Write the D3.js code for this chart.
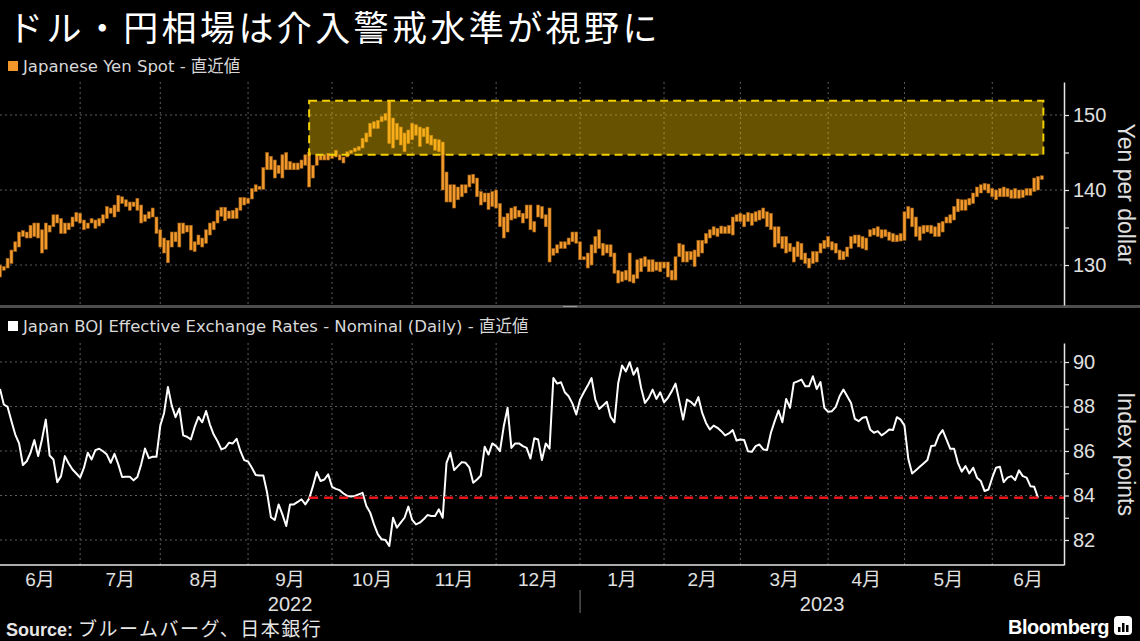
<!DOCTYPE html>
<html>
<head>
<meta charset="utf-8">
<script src="https://cdn.jsdelivr.net/npm/d3@7"></script>
<style>
  body { margin: 0; background: #000; }
  svg { display: block; }
  text { font-family: "Liberation Sans", Arial, sans-serif; }
</style>
</head>
<body>
<div id="chart"></div>
<script>
/* global d3 */

// USD/JPY daily high / low (one value per weekday from 2022-06-01)
const yenHigh = [
  130.0,129.8,130.9,132.0,133.1,134.4,134.6,134.4,135.3,135.6,135.6,134.7,135.6,135.3,136.7,136.7,136.2,135.6,135.6,136.4,
  137.0,136.9,136.0,135.6,136.2,136.0,136.2,136.7,137.8,137.6,138.0,139.3,139.1,138.7,138.4,138.4,138.9,138.0,136.7,137.1,
  137.6,136.4,134.7,133.6,133.3,134.4,134.4,135.6,135.6,135.3,135.3,133.1,134.0,133.6,134.7,135.6,135.8,137.3,137.7,137.7,
  137.2,137.3,137.6,139.0,139.0,138.9,140.2,140.7,140.5,143.0,145.0,144.5,144.0,143.3,144.7,145.0,143.8,143.6,143.6,144.0,
  144.7,145.0,143.3,144.7,144.7,144.7,144.9,144.7,145.3,144.7,144.4,145.1,145.3,145.6,145.8,146.9,147.6,148.9,149.1,149.3,
  149.8,150.2,151.9,149.6,148.9,148.4,147.6,148.0,148.9,148.7,148.4,148.2,148.4,147.3,146.8,146.7,146.4,142.4,140.7,140.7,
  140.4,140.7,140.7,142.0,142.1,141.6,139.8,139.6,139.6,139.8,140.0,138.2,136.4,136.9,137.6,137.8,137.3,136.9,138.0,138.0,
  135.8,138.0,137.8,136.7,137.6,132.2,132.7,133.1,133.1,133.6,134.4,134.4,133.1,131.1,131.6,132.7,133.8,134.7,132.9,132.7,
  132.7,131.6,129.3,129.1,129.3,131.6,128.7,130.7,130.9,131.1,130.7,130.7,130.4,130.4,130.4,130.4,129.3,131.1,132.9,132.7,
  131.8,131.8,132.0,133.3,133.3,134.2,134.7,135.1,134.9,135.2,135.1,135.3,136.4,136.7,136.9,136.7,137.0,136.9,137.1,137.3,
  137.6,137.1,136.9,135.1,135.1,133.8,133.8,132.9,132.4,133.1,132.9,131.6,130.9,131.8,131.8,132.9,133.3,133.8,133.1,132.9,
  132.0,131.8,132.4,133.8,134.0,134.0,133.8,133.6,134.7,134.9,135.1,134.7,134.7,134.4,134.2,134.0,134.2,137.1,137.8,137.6,
  136.4,135.1,135.3,135.3,135.3,135.1,135.6,135.8,136.4,136.7,137.8,138.8,138.7,138.7,138.9,139.6,140.4,140.7,140.9,140.8,
  140.2,140.0,140.2,140.4,140.2,140.0,140.2,140.0,140.0,140.2,140.2,141.6,141.8,141.9
];
const yenLow = [
  128.4,129.3,129.6,130.2,131.8,132.4,133.8,133.6,133.6,133.8,133.6,131.6,132.1,134.4,135.1,135.6,134.2,134.2,134.7,135.1,
  135.8,135.6,134.7,134.9,135.6,134.9,135.2,135.6,136.2,136.9,136.4,137.1,138.2,137.8,137.3,137.8,137.3,135.6,135.8,136.2,
  136.4,134.2,132.4,131.6,130.3,132.4,133.1,132.4,134.2,134.4,132.0,131.8,132.7,132.4,132.9,134.0,134.7,135.6,136.5,135.9,
  136.2,136.2,136.2,137.3,138.0,138.2,138.8,139.8,140.1,140.1,142.7,142.7,141.6,142.2,141.6,142.7,142.7,142.7,142.7,142.9,
  143.3,140.4,141.6,143.3,144.0,144.0,144.0,144.2,144.4,144.0,143.6,144.4,144.9,145.1,145.3,145.6,146.4,147.1,148.2,148.2,
  149.1,149.3,146.2,145.6,146.7,146.0,145.1,146.2,146.7,147.3,145.8,147.1,146.2,146.0,145.3,145.1,140.0,138.4,138.4,137.6,
  138.7,139.1,139.6,140.4,140.9,139.1,138.0,138.4,137.4,137.8,137.6,135.1,133.6,134.4,136.0,136.2,136.4,135.6,136.2,134.7,
  134.4,136.4,136.2,135.1,130.4,131.3,131.6,132.2,132.2,132.7,133.1,132.9,130.7,130.7,129.6,130.0,131.6,132.2,131.3,131.6,
  131.1,128.9,127.6,127.8,128.0,127.8,127.6,128.2,129.1,129.8,129.1,129.1,129.3,129.1,129.6,128.4,128.0,128.0,131.1,130.4,
  130.4,130.7,129.8,131.1,131.6,132.9,133.6,134.0,133.8,134.2,134.2,134.2,134.0,135.8,135.8,135.1,135.8,135.3,135.8,136.0,
  136.2,135.1,134.7,132.4,132.9,132.2,131.6,131.8,130.4,131.1,130.7,130.2,129.6,130.2,130.4,131.6,132.2,132.4,132.0,131.6,
  130.7,130.7,131.1,132.2,132.9,132.4,132.2,132.0,133.8,134.0,133.8,133.6,133.8,133.3,133.1,133.1,133.2,133.3,136.2,135.1,
  133.8,133.3,134.2,134.4,134.2,133.8,133.8,134.4,135.6,135.6,136.0,137.1,137.3,137.3,138.0,138.2,139.1,139.6,140.0,139.6,
  139.1,138.7,139.1,139.1,139.1,138.9,138.9,138.9,139.0,139.3,139.3,139.8,140.0,141.4
];

// Japan BOJ nominal effective exchange rate index (same weekday calendar)
const bojIndex = [
  88.79,88.09,87.98,87.34,86.74,86.34,85.37,85.54,85.92,86.49,85.77,86.52,87.41,85.80,85.62,84.60,84.87,85.77,85.44,85.17,
  84.99,84.80,85.25,85.92,85.62,86.04,86.10,85.99,85.84,85.47,85.87,85.40,84.83,84.84,84.84,84.68,84.83,85.40,86.11,85.68,
  85.74,85.74,87.14,87.71,88.88,88.04,87.52,87.91,86.70,86.64,86.52,87.08,87.53,87.29,87.80,87.19,86.74,86.44,86.07,86.14,
  86.37,86.34,86.55,85.99,85.59,85.53,85.25,84.92,84.90,84.90,84.12,83.02,82.90,83.60,83.15,82.63,83.60,83.60,83.71,83.83,
  83.60,83.86,84.42,85.05,84.65,84.72,84.95,84.39,84.30,84.24,84.09,83.98,83.95,83.98,84.05,84.12,83.53,83.23,82.70,82.26,
  82.03,82.00,81.73,83.00,82.55,82.78,83.00,83.50,82.90,82.70,82.78,82.93,83.12,83.08,83.08,83.38,83.00,85.47,85.92,85.14,
  85.32,85.50,85.47,85.25,84.57,84.72,84.90,86.19,85.84,86.34,86.22,85.99,87.11,87.94,86.14,86.34,86.34,86.22,86.14,85.66,
  86.57,86.52,85.59,86.34,86.10,89.28,89.03,89.09,88.64,88.46,88.13,87.64,88.31,88.64,88.94,89.28,88.31,87.89,88.04,88.21,
  87.53,87.29,89.06,89.84,89.58,89.99,89.43,89.73,88.83,88.16,88.39,88.76,88.34,88.64,88.19,88.39,88.68,89.03,88.24,87.41,
  88.31,88.21,88.04,88.42,87.71,87.26,86.97,87.14,87.04,86.89,86.70,86.79,86.94,86.47,86.52,86.49,85.99,85.96,86.22,86.29,
  86.07,86.04,86.82,87.34,87.82,87.29,88.34,87.94,89.06,89.13,89.21,88.91,88.91,89.36,88.79,89.10,87.94,87.76,87.79,87.98,
  88.46,88.76,88.46,88.16,87.44,87.34,87.49,87.53,86.97,86.82,86.89,86.70,86.82,86.97,86.94,87.52,87.41,87.14,85.65,84.99,
  85.14,85.29,85.44,85.59,86.22,86.25,86.70,86.94,86.52,86.10,86.10,85.47,85.07,85.32,84.99,85.25,84.80,84.65,84.20,84.27,
  84.80,85.25,85.29,84.60,84.80,84.87,84.69,85.13,84.87,84.80,84.42,84.39,83.90
];

const interventionIdx = 81;            // 2022-09-22
const alertZone = [144.7, 151.9];      // yen per dollar
const yenTicks = [130, 135, 140, 145, 150];
const bojTicks = [82, 83, 84, 85, 86, 87, 88, 89, 90];
const monthNames = ["1月","2月","3月","4月","5月","6月","7月","8月","9月","10月","11月","12月"];

// weekday calendar starting 2022-06-01
const days = d3.timeDay.range(new Date(2022, 5, 1), new Date(2023, 5, 30))
  .filter(d => d.getDay() !== 0 && d.getDay() !== 6);

const W = 1140, H = 641;
const plotRight = 1064;
const top1 = 82, bot1 = 305, top2 = 343, bot2 = 565;

const svg = d3.select("#chart").append("svg")
  .attr("width", W).attr("height", H)
  .style("background", "#000");

// scales
const x = d3.scaleLinear().domain([0, 278.8]).range([0, plotRight]);
const y1 = d3.scaleLinear().domain([124.67, 154.4]).range([bot1, top1]);
const y2 = d3.scaleLinear().domain([80.876, 90.854]).range([bot2, top2]);

// month boundaries (grid sits on the last weekday of the previous month)
let monthStarts = [];
days.forEach((d, i) => { if (i > 0 && d.getMonth() !== days[i - 1].getMonth()) monthStarts.push(i); });
const gridX = monthStarts.map(i => x(i - 1));

const gridColor = "#5c5c5c";

// title & legends
svg.append("text").attr("x", 8).attr("y", 41)
  .attr("fill", "#fff").style("font-family", "'Noto Sans CJK JP', sans-serif")
  .style("font-size", "35px").style("letter-spacing", "3.4px")
  .text("ドル・円相場は介入警戒水準が視野に");

svg.append("rect").attr("x", 8).attr("y", 61).attr("width", 10).attr("height", 10).attr("fill", "#f0962a");
svg.append("text").attr("x", 23).attr("y", 72).attr("fill", "#d8d8d8")
  .style("font-family", "'DejaVu Sans', 'Noto Sans CJK JP', sans-serif").style("font-size", "16.5px")
  .text("Japanese Yen Spot - 直近値");

svg.append("rect").attr("x", 8).attr("y", 321).attr("width", 10).attr("height", 10).attr("fill", "#fff");
svg.append("text").attr("x", 23).attr("y", 332).attr("fill", "#d8d8d8")
  .style("font-family", "'DejaVu Sans', 'Noto Sans CJK JP', sans-serif").style("font-size", "16.5px")
  .text("Japan BOJ Effective Exchange Rates - Nominal (Daily) - 直近値");

// grids
function drawGrid(yScale, ticks, t, b) {
  const g = svg.append("g");
  g.selectAll(".h").data(ticks).enter().append("line")
    .attr("x1", 0).attr("x2", plotRight)
    .attr("y1", d => yScale(d)).attr("y2", d => yScale(d))
    .attr("stroke", gridColor).attr("stroke-dasharray", "2,3");
  g.selectAll(".v").data(gridX).enter().append("line")
    .attr("x1", d => d).attr("x2", d => d).attr("y1", t).attr("y2", b)
    .attr("stroke", gridColor).attr("stroke-dasharray", "2,3");
}
drawGrid(y1, [130, 140, 150], top1, bot1);
drawGrid(y2, [82, 84, 86, 88, 90], top2, bot2);

// yen bars
svg.append("g").selectAll("rect").data(yenHigh).enter().append("rect")
  .attr("x", (d, i) => x(i) - 1.5)
  .attr("y", d => y1(d))
  .attr("width", 3)
  .attr("height", (d, i) => Math.max(1.5, y1(yenLow[i]) - y1(d)))
  .attr("fill", "#f39a2e")
  .attr("stroke", "#9a5c12").attr("stroke-width", 0.6);

// alert zone
svg.append("rect")
  .attr("x", x(interventionIdx))
  .attr("y", y1(alertZone[1]))
  .attr("width", x(yenHigh.length - 1) + 1.5 - x(interventionIdx))
  .attr("height", y1(alertZone[0]) - y1(alertZone[1]))
  .attr("fill", "#ffcc00").attr("fill-opacity", 0.4)
  .attr("stroke", "#f2cf00").attr("stroke-width", 2).attr("stroke-dasharray", "8,5");

// boj line
svg.append("path").datum(bojIndex)
  .attr("d", d3.line().x((d, i) => x(i)).y(d => y2(d)))
  .attr("fill", "none").attr("stroke", "#fff").attr("stroke-width", 2)
  .attr("stroke-linejoin", "round");

// red reference line at latest value
const lastBoj = bojIndex[bojIndex.length - 1];
svg.append("line")
  .attr("x1", x(interventionIdx)).attr("x2", plotRight)
  .attr("y1", y2(lastBoj)).attr("y2", y2(lastBoj))
  .attr("stroke", "#e8161a").attr("stroke-width", 2.5).attr("stroke-dasharray", "9,6");

// panel separator
svg.append("rect").attr("x", 0).attr("y", 305).attr("width", W).attr("height", 3).attr("fill", "#4d4d4d");
svg.append("rect").attr("x", 563).attr("y", 306).attr("width", 14).attr("height", 1).attr("fill", "#9a9a9a");

// right axes
function styleAxis(g) {
  g.select(".domain").attr("stroke", "#e6e6e6").attr("stroke-width", 1.5);
  g.selectAll(".tick line").attr("stroke", "#e6e6e6").attr("stroke-width", 1.2);
  g.selectAll(".tick text").attr("fill", "#e0e0e0").style("font-size", "20px");
}
svg.append("g").attr("transform", `translate(${plotRight},0)`)
  .call(d3.axisRight(y1).tickValues(yenTicks).tickSize(5).tickSizeOuter(0).tickPadding(4)
    .tickFormat(d => d % 10 === 0 ? d : ""))
  .call(styleAxis);
svg.append("g").attr("transform", `translate(${plotRight},0)`)
  .call(d3.axisRight(y2).tickValues(bojTicks).tickSize(5).tickSizeOuter(0).tickPadding(4)
    .tickFormat(d => d % 2 === 0 ? d : ""))
  .call(styleAxis);

svg.append("text").attr("transform", `translate(1118,194) rotate(90)`)
  .attr("text-anchor", "middle").attr("fill", "#e0e0e0").style("font-size", "23px")
  .text("Yen per dollar");
svg.append("text").attr("transform", `translate(1118,454) rotate(90)`)
  .attr("text-anchor", "middle").attr("fill", "#e0e0e0").style("font-size", "23px")
  .text("Index points");

// x axis
svg.append("line").attr("x1", 0).attr("x2", plotRight).attr("y1", bot2).attr("y2", bot2)
  .attr("stroke", "#e6e6e6").attr("stroke-width", 1.5);

const bounds = [0].concat(gridX, [plotRight]);
const monthMid = d3.range(bounds.length - 1).map(k => (bounds[k] + bounds[k + 1]) / 2);
const monthOf = [days[0]].concat(monthStarts.map(i => days[i]));
svg.append("g").selectAll("text").data(monthMid).enter().append("text")
  .attr("x", d => d).attr("y", 586).attr("text-anchor", "middle")
  .attr("fill", "#e0e0e0").style("font-size", "19px")
  .style("font-family", "'Liberation Sans', 'Noto Sans CJK JP', sans-serif")
  .text((d, k) => monthNames[monthOf[k].getMonth()]);

const janX = gridX[monthOf.findIndex(d => d.getMonth() === 0) - 1];
svg.append("line").attr("x1", janX).attr("x2", janX).attr("y1", 590).attr("y2", 613)
  .attr("stroke", "#777").attr("stroke-width", 1);
const yearLabels = [{ t: "2022", x: janX / 2 }, { t: "2023", x: (janX + plotRight) / 2 }];
svg.append("g").selectAll("text").data(yearLabels).enter().append("text")
  .attr("x", d => d.x).attr("y", 611).attr("text-anchor", "middle")
  .attr("fill", "#e0e0e0").style("font-size", "20px").text(d => d.t);

// footer
const src = svg.append("text").attr("x", 6).attr("y", 636).attr("fill", "#e6e6e6").style("font-size", "18px");
src.append("tspan").style("font-weight", "bold").text("Source: ");
src.append("tspan").style("font-family", "'Noto Sans CJK JP', sans-serif").style("font-size", "19px")
  .style("letter-spacing", "1.5px")
  .text("ブルームバーグ、日本銀行");

svg.append("text").attr("x", 1109).attr("y", 634).attr("text-anchor", "end")
  .attr("fill", "#fff").style("font-size", "20px").style("font-weight", "bold")
  .style("letter-spacing", "-0.5px").text("Bloomberg");
svg.append("rect").attr("x", 1114).attr("y", 616).attr("width", 18).attr("height", 19).attr("rx", 4)
  .attr("fill", "#fff");
svg.append("g").selectAll("rect").data([5, 9, 7]).enter().append("rect")
  .attr("x", (d, k) => 1118 + k * 4).attr("y", d => 632 - d).attr("width", 2.5).attr("height", d => d)
  .attr("fill", "#000");
</script>
</body>
</html>
